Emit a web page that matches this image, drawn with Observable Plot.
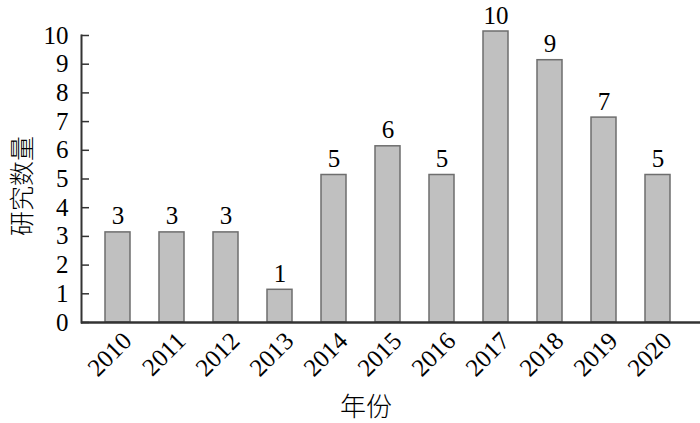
<!DOCTYPE html>
<html><head><meta charset="utf-8">
<script src="https://cdn.jsdelivr.net/npm/d3@7"></script>
<script src="https://cdn.jsdelivr.net/npm/@observablehq/plot@0.6"></script>
<style>body{margin:0;background:#fff}</style>
</head><body><div id="chart"></div>
<script>
const years = ["2010","2011","2012","2013","2014","2015","2016","2017","2018","2019","2020"];
const counts = [3,3,3,1,5,6,5,10,9,7,5];
const yTicks = [0,1,2,3,4,5,6,7,8,9,10];
const xTitle = "年份";
const yTitle = "研究数量";

const data = years.map((year, i) => ({year, count: counts[i]}));
const font = '"Liberation Serif","Times New Roman","Noto Sans CJK SC",serif';

const chart = Plot.plot({
  width: 700, height: 423,
  marginLeft: 81, marginRight: 0, marginTop: 35, marginBottom: 101,
  style: {fontFamily: font, fontSize: "25px", color: "#000", background: "#fff"},
  x: {domain: years, range: [87, 687], paddingInner: 0.54, paddingOuter: 0.27, axis: null},
  y: {domain: [0, 10], axis: null},
  marks: [
    Plot.barY(data, {x: "year", y: "count", fill: "#c0c0c0", stroke: "#6e6e6e", strokeWidth: 1.5, insetTop: -4}),
    Plot.text(data, {x: "year", y: "count", text: d => String(d.count), lineAnchor: "bottom", dy: -12, fontSize: 25, fill: "#000"}),
    Plot.axisY(yTicks, {tickSize: 0, tickPadding: 13, fontSize: 25, fill: "#000", label: null}),
    Plot.axisY(yTicks, {tickSize: 8, dx: 8, tickFormat: () => "", stroke: "#333", strokeWidth: 1.5, label: null}),
    Plot.frame({anchor: "left", stroke: "#333", strokeWidth: 2}),
    Plot.ruleY([0], {stroke: "#333", strokeWidth: 2.5}),
    Plot.text(years, {x: d => d, frameAnchor: "bottom", rotate: -45, textAnchor: "end", lineAnchor: "bottom", dx: 15, dy: 20, fontSize: 25, fill: "#000"}),
    Plot.text([xTitle], {frameAnchor: "bottom", lineAnchor: "bottom", dx: -25, dy: 93, fontSize: 26, fill: "#000", fontWeight: 300, fontFamily: '"Noto Sans CJK SC",sans-serif'}),
    Plot.text([yTitle], {frameAnchor: "left", rotate: -90, lineAnchor: "middle", textAnchor: "middle", dx: -59, dy: 7, fontSize: 25, fill: "#000", fontWeight: 300, fontFamily: '"Noto Sans CJK SC",sans-serif'})
  ]
});
document.getElementById("chart").appendChild(chart);
</script>
</body></html>
